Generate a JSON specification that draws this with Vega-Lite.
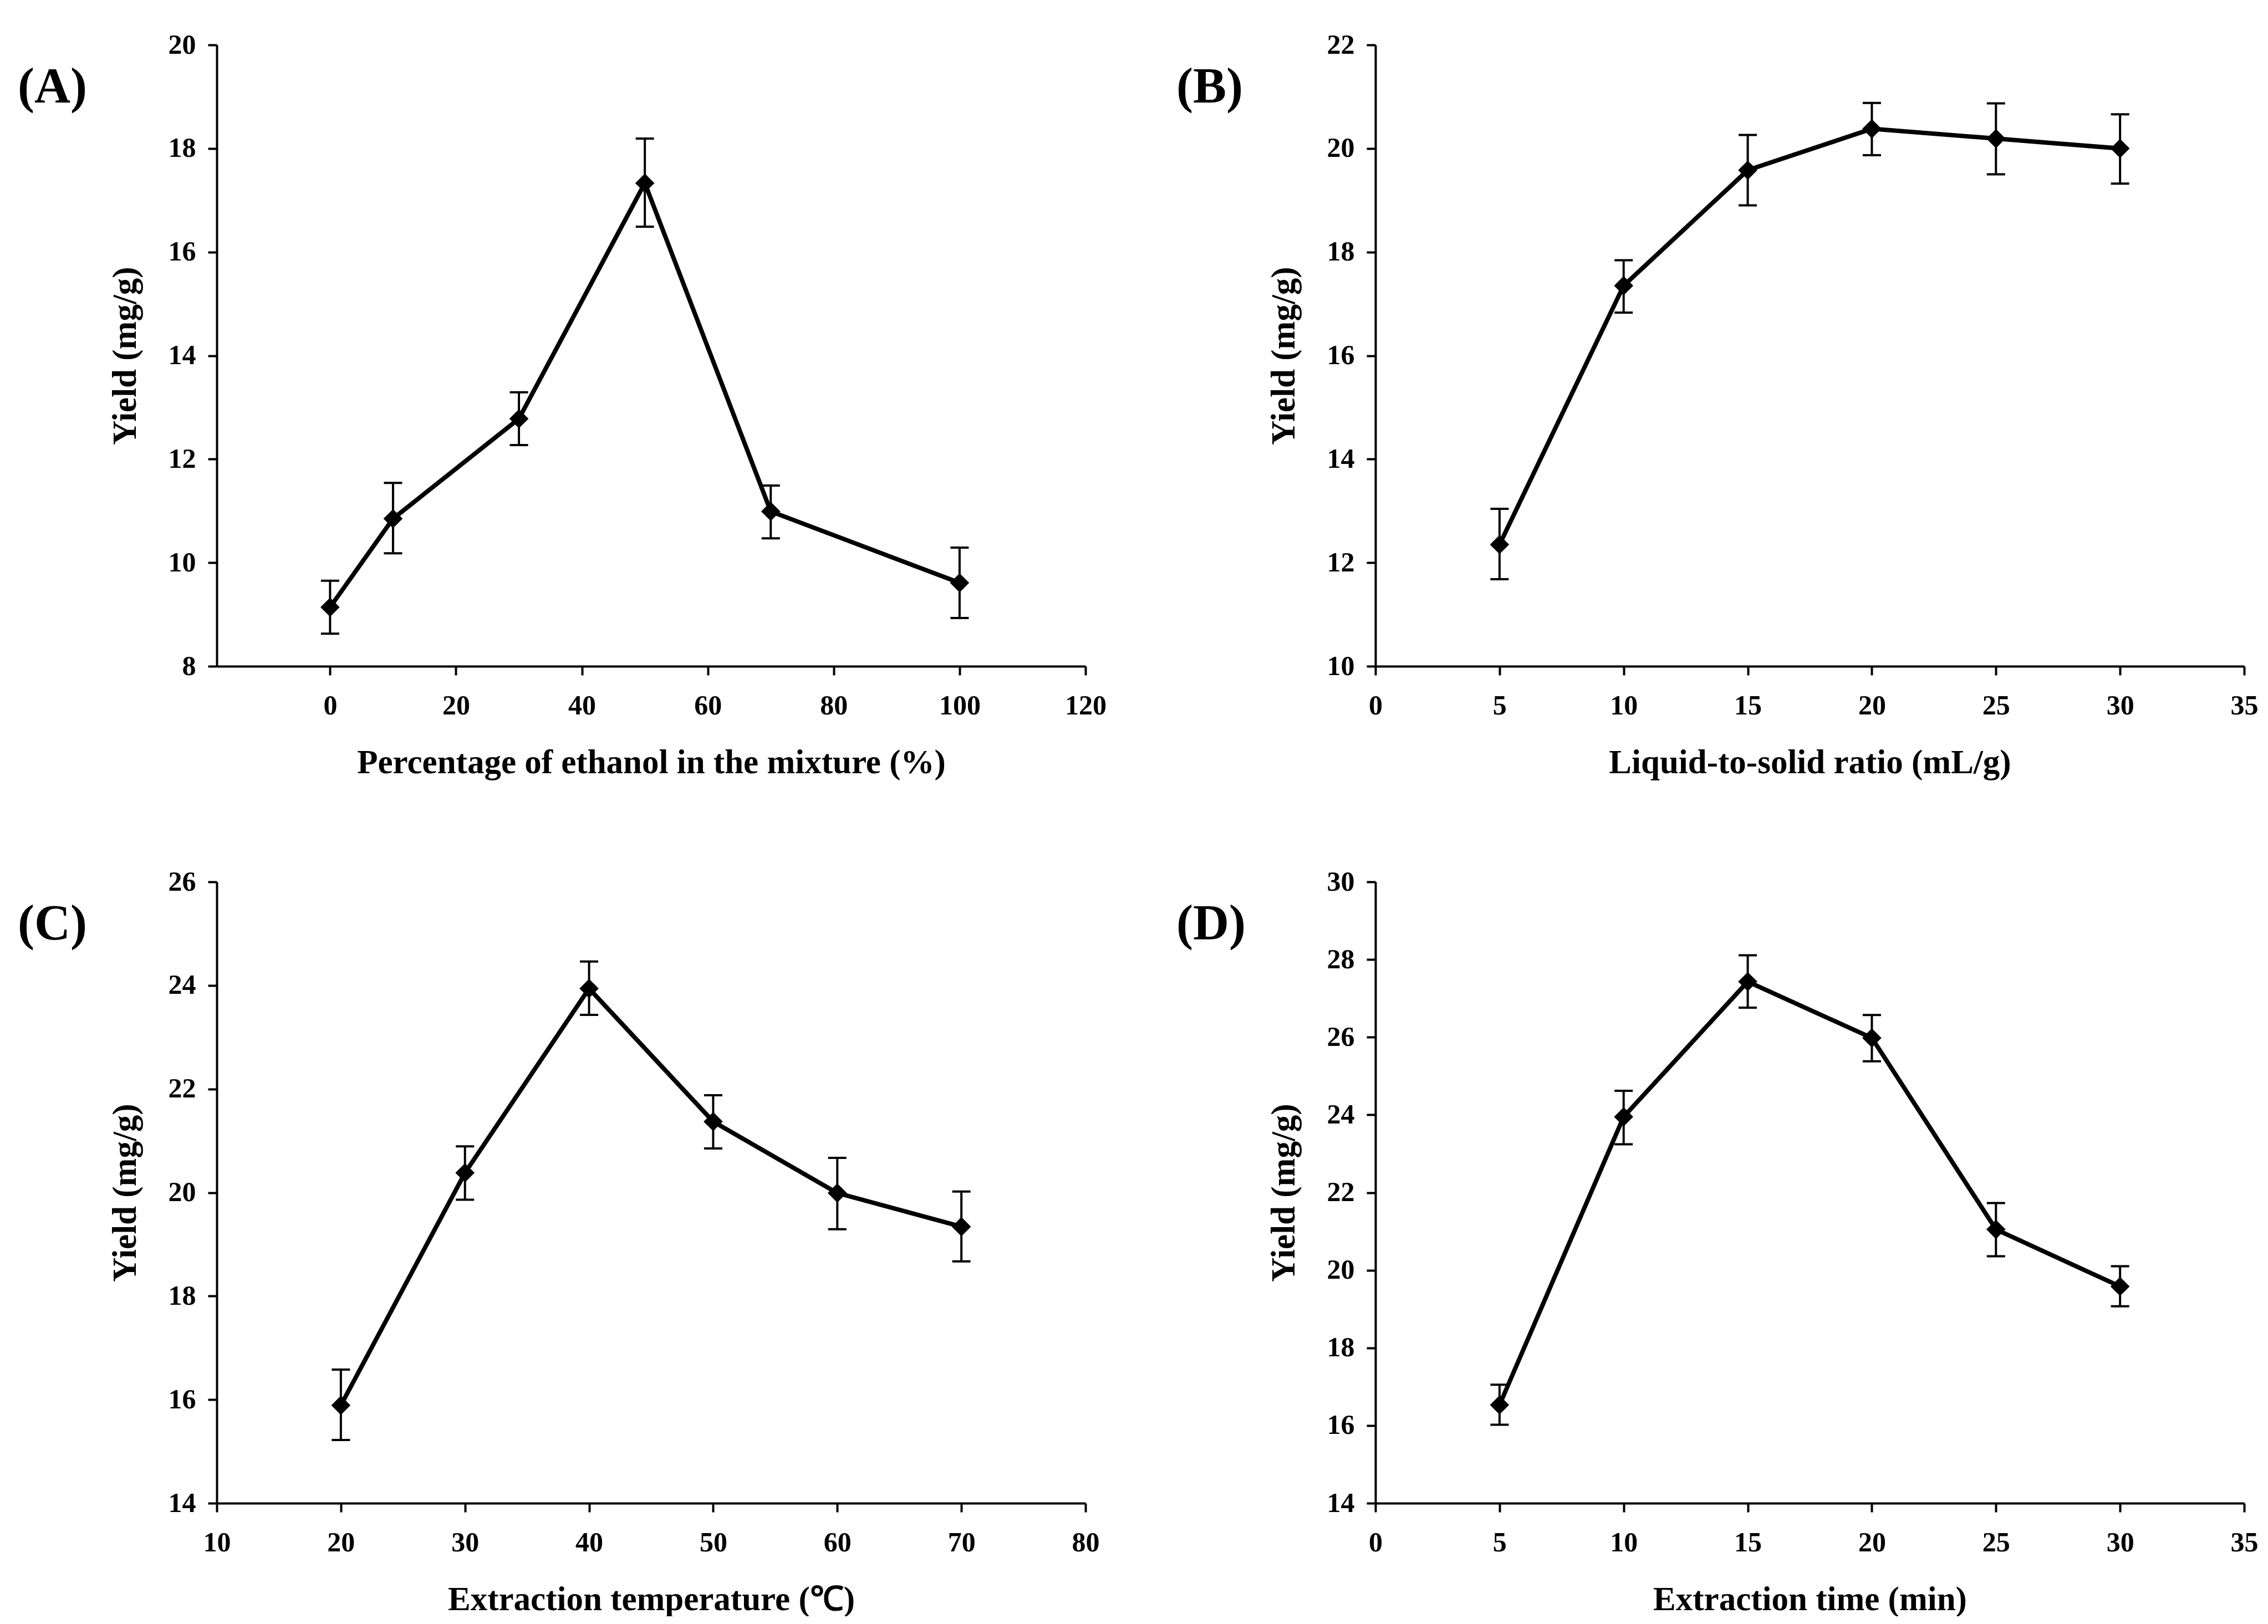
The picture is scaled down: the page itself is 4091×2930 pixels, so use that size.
{
  "$schema": "https://vega.github.io/schema/vega-lite/v6.json",
  "autosize": {"type": "pad"},
  "padding": {"left": 32, "top": 56, "right": 0, "bottom": 0},
  "background": "white",
  "config": {
    "view": {"stroke": null},
    "font": "Liberation Serif",
    "axis": {
      "grid": false,
      "domainColor": "black",
      "domainWidth": 4,
      "tickColor": "black",
      "tickWidth": 4,
      "tickSize": 16,
      "format": "d",
      "labelFont": "Liberation Serif",
      "labelFontWeight": "bold",
      "labelFontSize": 50,
      "labelColor": "black",
      "titleFont": "Liberation Serif",
      "titleFontWeight": "bold",
      "titleFontSize": 61,
      "titleColor": "black"
    },
    "axisX": {"labelPadding": 30, "titlePadding": 48, "labelFlush": false},
    "axisY": {"labelPadding": 22, "titlePadding": 46},
    "title": {"font": "Liberation Serif", "fontWeight": "bold", "fontSize": 90, "color": "black", "anchor": "start", "frame": "group", "baseline": "alphabetic", "offset": 0, "dx": -359, "dy": 152}
  },
  "datasets": {
    "yield": [
      {"panel": "A", "x": 0, "y": 9.14, "lo": 8.63, "hi": 9.65},
      {"panel": "A", "x": 10, "y": 10.85, "lo": 10.18, "hi": 11.54},
      {"panel": "A", "x": 30, "y": 12.78, "lo": 12.27, "hi": 13.29},
      {"panel": "A", "x": 50, "y": 17.33, "lo": 16.49, "hi": 18.19},
      {"panel": "A", "x": 70, "y": 10.99, "lo": 10.47, "hi": 11.49},
      {"panel": "A", "x": 100, "y": 9.61, "lo": 8.93, "hi": 10.29},
      {"panel": "B", "x": 5, "y": 12.35, "lo": 11.68, "hi": 13.04},
      {"panel": "B", "x": 10, "y": 17.35, "lo": 16.83, "hi": 17.84},
      {"panel": "B", "x": 15, "y": 19.58, "lo": 18.9, "hi": 20.26},
      {"panel": "B", "x": 20, "y": 20.38, "lo": 19.87, "hi": 20.88},
      {"panel": "B", "x": 25, "y": 20.19, "lo": 19.5, "hi": 20.87},
      {"panel": "B", "x": 30, "y": 20.0, "lo": 19.32, "hi": 20.66},
      {"panel": "C", "x": 20, "y": 15.89, "lo": 15.22, "hi": 16.58},
      {"panel": "C", "x": 30, "y": 20.38, "lo": 19.86, "hi": 20.89},
      {"panel": "C", "x": 40, "y": 23.94, "lo": 23.43, "hi": 24.46},
      {"panel": "C", "x": 50, "y": 21.37, "lo": 20.85, "hi": 21.88},
      {"panel": "C", "x": 60, "y": 19.99, "lo": 19.29, "hi": 20.67},
      {"panel": "C", "x": 70, "y": 19.34, "lo": 18.67, "hi": 20.02},
      {"panel": "D", "x": 5, "y": 16.53, "lo": 16.02, "hi": 17.05},
      {"panel": "D", "x": 10, "y": 23.95, "lo": 23.24, "hi": 24.62},
      {"panel": "D", "x": 15, "y": 27.43, "lo": 26.76, "hi": 28.11},
      {"panel": "D", "x": 20, "y": 25.98, "lo": 25.38, "hi": 26.57},
      {"panel": "D", "x": 25, "y": 21.05, "lo": 20.36, "hi": 21.73},
      {"panel": "D", "x": 30, "y": 19.58, "lo": 19.07, "hi": 20.1}
    ]
  },
  "data": {"name": "yield"},
  "columns": 2,
  "bounds": "flush",
  "spacing": {"row": 389, "column": 523},
  "concat": [
    {
      "width": 1567, "height": 1121,
      "title": {"text": "(A)"},
      "transform": [{"filter": "datum.panel === 'A'"}],
      "encoding": {
        "x": {"field": "x", "type": "quantitative", "scale": {"domain": [-18, 120], "nice": false, "zero": false}, "axis": {"title": "Percentage of ethanol in the mixture (%)", "values": [0, 20, 40, 60, 80, 100, 120]}}
      },
      "layer": [
        {"mark": {"type": "rule", "color": "black", "strokeWidth": 4}, "encoding": {"y": {"field": "lo", "type": "quantitative", "scale": {"domain": [8, 20], "nice": false, "zero": false}, "axis": {"title": "Yield (mg/g)", "values": [8, 10, 12, 14, 16, 18, 20]}}, "y2": {"field": "hi"}}},
        {"mark": {"type": "tick", "orient": "horizontal", "color": "black", "size": 33, "thickness": 4, "opacity": 1}, "encoding": {"y": {"field": "lo", "type": "quantitative", "axis": {"title": "Yield (mg/g)"}}}},
        {"mark": {"type": "tick", "orient": "horizontal", "color": "black", "size": 33, "thickness": 4, "opacity": 1}, "encoding": {"y": {"field": "hi", "type": "quantitative", "axis": {"title": "Yield (mg/g)"}}}},
        {"mark": {"type": "line", "color": "black", "strokeWidth": 8}, "encoding": {"y": {"field": "y", "type": "quantitative", "axis": {"title": "Yield (mg/g)"}}}},
        {"mark": {"type": "point", "shape": "diamond", "filled": true, "color": "black", "opacity": 1, "size": 1200}, "encoding": {"y": {"field": "y", "type": "quantitative", "axis": {"title": "Yield (mg/g)"}}}}
      ]
    },
    {
      "width": 1567, "height": 1121,
      "title": {"text": "(B)"},
      "transform": [{"filter": "datum.panel === 'B'"}],
      "encoding": {
        "x": {"field": "x", "type": "quantitative", "scale": {"domain": [0, 35], "nice": false}, "axis": {"title": "Liquid-to-solid ratio (mL/g)", "values": [0, 5, 10, 15, 20, 25, 30, 35]}}
      },
      "layer": [
        {"mark": {"type": "rule", "color": "black", "strokeWidth": 4}, "encoding": {"y": {"field": "lo", "type": "quantitative", "scale": {"domain": [10, 22], "nice": false, "zero": false}, "axis": {"title": "Yield (mg/g)", "values": [10, 12, 14, 16, 18, 20, 22]}}, "y2": {"field": "hi"}}},
        {"mark": {"type": "tick", "orient": "horizontal", "color": "black", "size": 33, "thickness": 4, "opacity": 1}, "encoding": {"y": {"field": "lo", "type": "quantitative", "axis": {"title": "Yield (mg/g)"}}}},
        {"mark": {"type": "tick", "orient": "horizontal", "color": "black", "size": 33, "thickness": 4, "opacity": 1}, "encoding": {"y": {"field": "hi", "type": "quantitative", "axis": {"title": "Yield (mg/g)"}}}},
        {"mark": {"type": "line", "color": "black", "strokeWidth": 8}, "encoding": {"y": {"field": "y", "type": "quantitative", "axis": {"title": "Yield (mg/g)"}}}},
        {"mark": {"type": "point", "shape": "diamond", "filled": true, "color": "black", "opacity": 1, "size": 1200}, "encoding": {"y": {"field": "y", "type": "quantitative", "axis": {"title": "Yield (mg/g)"}}}}
      ]
    },
    {
      "width": 1567, "height": 1121,
      "title": {"text": "(C)"},
      "transform": [{"filter": "datum.panel === 'C'"}],
      "encoding": {
        "x": {"field": "x", "type": "quantitative", "scale": {"domain": [10, 80], "nice": false, "zero": false}, "axis": {"title": "Extraction temperature (℃)", "values": [10, 20, 30, 40, 50, 60, 70, 80]}}
      },
      "layer": [
        {"mark": {"type": "rule", "color": "black", "strokeWidth": 4}, "encoding": {"y": {"field": "lo", "type": "quantitative", "scale": {"domain": [14, 26], "nice": false, "zero": false}, "axis": {"title": "Yield (mg/g)", "values": [14, 16, 18, 20, 22, 24, 26]}}, "y2": {"field": "hi"}}},
        {"mark": {"type": "tick", "orient": "horizontal", "color": "black", "size": 33, "thickness": 4, "opacity": 1}, "encoding": {"y": {"field": "lo", "type": "quantitative", "axis": {"title": "Yield (mg/g)"}}}},
        {"mark": {"type": "tick", "orient": "horizontal", "color": "black", "size": 33, "thickness": 4, "opacity": 1}, "encoding": {"y": {"field": "hi", "type": "quantitative", "axis": {"title": "Yield (mg/g)"}}}},
        {"mark": {"type": "line", "color": "black", "strokeWidth": 8}, "encoding": {"y": {"field": "y", "type": "quantitative", "axis": {"title": "Yield (mg/g)"}}}},
        {"mark": {"type": "point", "shape": "diamond", "filled": true, "color": "black", "opacity": 1, "size": 1200}, "encoding": {"y": {"field": "y", "type": "quantitative", "axis": {"title": "Yield (mg/g)"}}}}
      ]
    },
    {
      "width": 1567, "height": 1121,
      "title": {"text": "(D)"},
      "transform": [{"filter": "datum.panel === 'D'"}],
      "encoding": {
        "x": {"field": "x", "type": "quantitative", "scale": {"domain": [0, 35], "nice": false}, "axis": {"title": "Extraction time (min)", "values": [0, 5, 10, 15, 20, 25, 30, 35]}}
      },
      "layer": [
        {"mark": {"type": "rule", "color": "black", "strokeWidth": 4}, "encoding": {"y": {"field": "lo", "type": "quantitative", "scale": {"domain": [14, 30], "nice": false, "zero": false}, "axis": {"title": "Yield (mg/g)", "values": [14, 16, 18, 20, 22, 24, 26, 28, 30]}}, "y2": {"field": "hi"}}},
        {"mark": {"type": "tick", "orient": "horizontal", "color": "black", "size": 33, "thickness": 4, "opacity": 1}, "encoding": {"y": {"field": "lo", "type": "quantitative", "axis": {"title": "Yield (mg/g)"}}}},
        {"mark": {"type": "tick", "orient": "horizontal", "color": "black", "size": 33, "thickness": 4, "opacity": 1}, "encoding": {"y": {"field": "hi", "type": "quantitative", "axis": {"title": "Yield (mg/g)"}}}},
        {"mark": {"type": "line", "color": "black", "strokeWidth": 8}, "encoding": {"y": {"field": "y", "type": "quantitative", "axis": {"title": "Yield (mg/g)"}}}},
        {"mark": {"type": "point", "shape": "diamond", "filled": true, "color": "black", "opacity": 1, "size": 1200}, "encoding": {"y": {"field": "y", "type": "quantitative", "axis": {"title": "Yield (mg/g)"}}}}
      ]
    }
  ]
}
